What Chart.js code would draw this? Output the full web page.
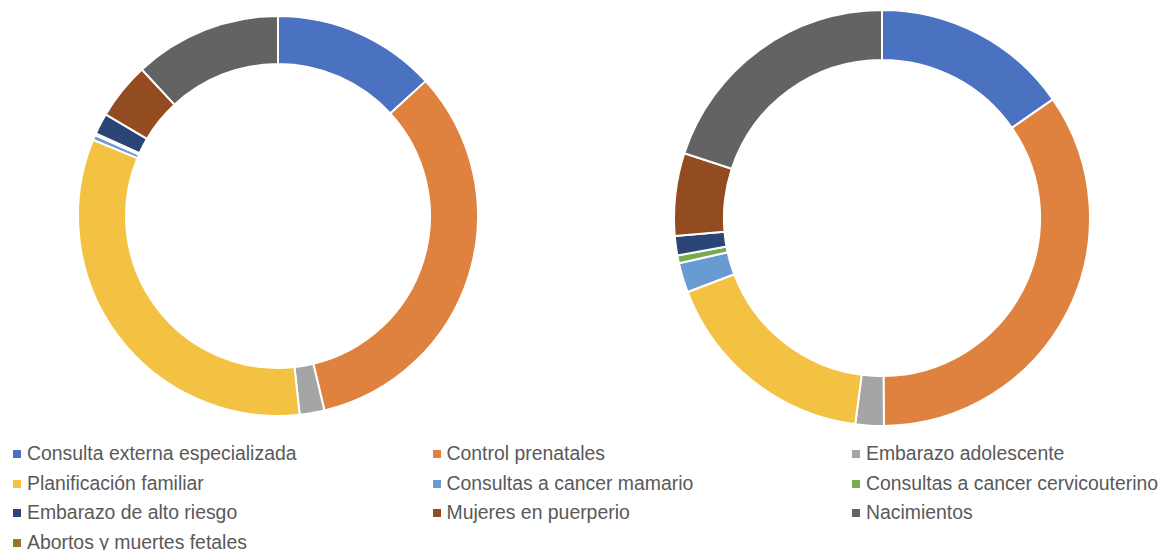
<!DOCTYPE html>
<html>
<head>
<meta charset="utf-8">
<script src="https://cdn.jsdelivr.net/npm/chart.js@4/dist/chart.umd.min.js"></script>
<style>
  body { margin: 0; background: #fff; width: 1166px; height: 550px; overflow: hidden; position: relative; font-family: "Liberation Sans", Arial, sans-serif; }
  .pie { position: absolute; }
  .item { position: absolute; font-size: 19.4px; color: #595959; white-space: nowrap; line-height: 20px; }
  .item span { display: inline-block; width: 8px; height: 8px; margin-right: 6px; vertical-align: 2px; }
</style>
</head>
<body>
<div class="pie" style="left:77px; top:15px;"><canvas id="leftChart" width="402" height="402"></canvas></div>
<div class="pie" style="left:673px; top:9px;"><canvas id="rightChart" width="418" height="418"></canvas></div>
<div id="legend"></div>
<script>
const categories = [
  "Consulta externa especializada",
  "Control prenatales",
  "Embarazo adolescente",
  "Planificación familiar",
  "Consultas a cancer mamario",
  "Consultas a cancer cervicouterino",
  "Embarazo de alto riesgo",
  "Mujeres en puerperio",
  "Nacimientos",
  "Abortos y muertes fetales"
];

// shares (percent)
const leftValues = [13.2, 33.0, 2.0, 32.9, 0.4, 0.15, 1.7, 4.6, 11.9, 0];
const rightValues = [15.3, 34.4, 2.2, 17.1, 2.3, 0.6, 1.5, 6.4, 19.9, 0];

const sliceColors = [
  "#4A72C0", "#E0823F", "#A5A5A5", "#F4C242", "#689BD2",
  "#75AC4E", "#2C4577", "#934B20", "#636363", "#99762A"
];

const makeDoughnut = (id, values) => {
  const context = document.getElementById(id).getContext('2d');
  return new Chart(context, {
    type: 'doughnut',
    data: {
      labels: categories,
      datasets: [{
        data: values,
        backgroundColor: sliceColors,
        borderColor: '#ffffff',
        borderWidth: 2
      }]
    },
    options: {
      responsive: false,
      animation: false,
      cutout: '76%',
      layout: { padding: 0 },
      plugins: {
        legend: { display: false },
        tooltip: { enabled: false }
      }
    }
  });
};

makeDoughnut('leftChart', leftValues);
makeDoughnut('rightChart', rightValues);

// shared legend under both charts, 3 columns
const legend = document.getElementById('legend');
categories.forEach((label, i) => {
  const item = document.createElement('div');
  item.className = 'item';
  item.style.left = (13 + (i % 3) * 419.5) + 'px';
  item.style.top = (443 + Math.floor(i / 3) * 29.5) + 'px';
  item.innerHTML = '<span style="background:' + sliceColors[i] + '"></span>' + label;
  legend.appendChild(item);
});
</script>
</body>
</html>
